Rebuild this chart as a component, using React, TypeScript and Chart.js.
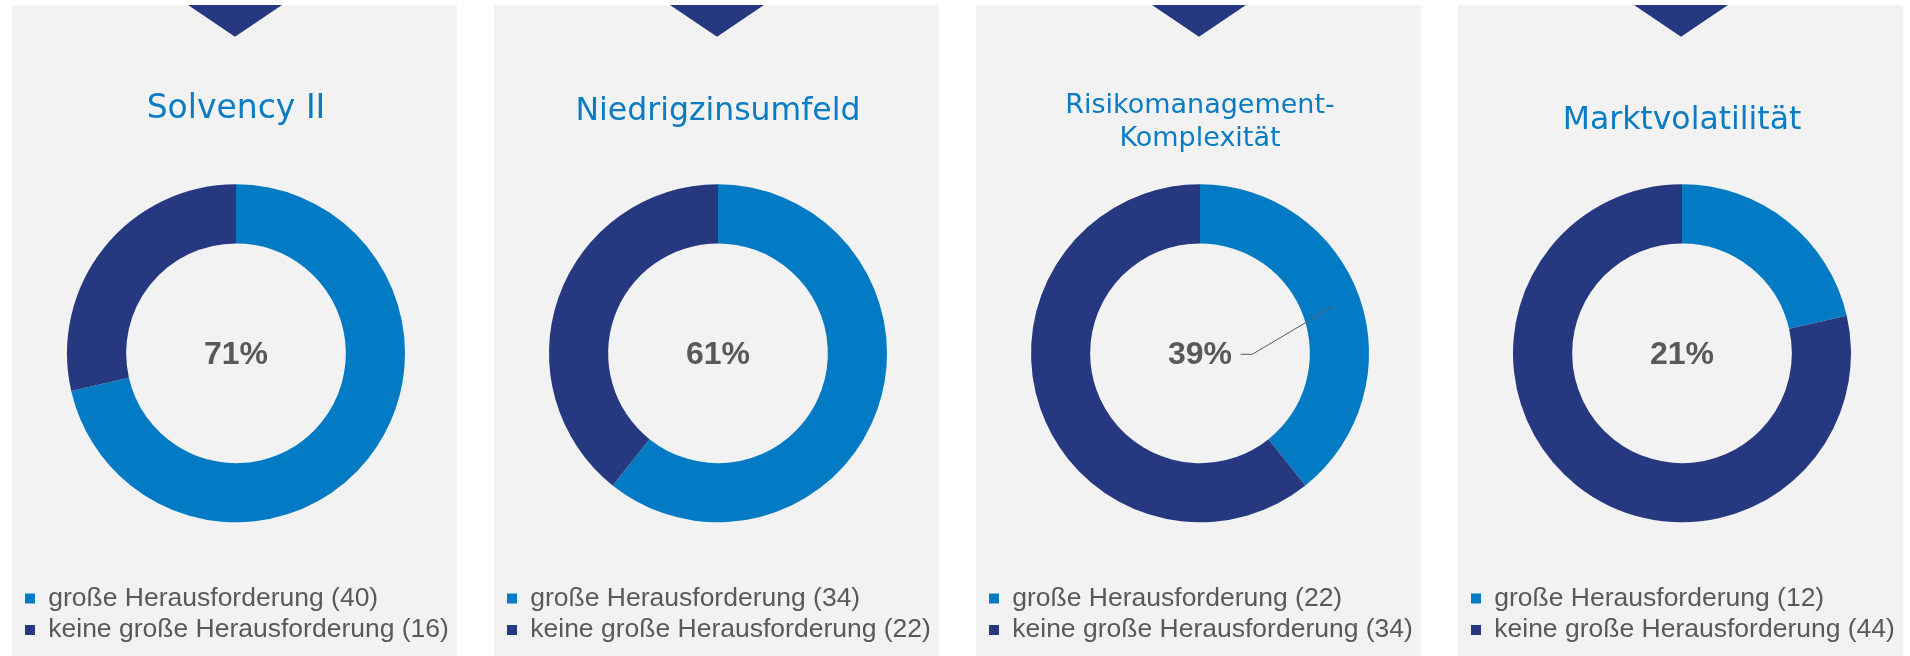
import React, { useEffect, useRef } from "react";
import { Chart, registerables } from "chart.js";

Chart.register(...registerables);

// ---------- data ----------
const panelTitles: string[][] = [
  ["Solvency II"],
  ["Niedrigzinsumfeld"],
  ["Risikomanagement-", "Komplexität"],
  ["Marktvolatilität"],
];
const categories = ["große Herausforderung", "keine große Herausforderung"];
const bigChallenge = [40, 34, 22, 12];
const notBigChallenge = [16, 22, 34, 44];

// ---------- styles ----------
const BLUE = "#027BC4";
const NAVY = "#263880";
const TITLE_BLUE = "#0A7CC3";
const GRAY_TEXT = "#595959";
const PANEL_BG = "#F2F2F2";

const PANEL_W = 445;
const PANEL_H = 651;
const PANEL_TOP = 5;
const panelLefts = [12, 494, 976, 1458];
// title font size, first-line baseline (canvas px), line-height factor
const titleStyles = [
  { size: 33, baseline: 115.8, lh: 1.2 },
  { size: 31.5, baseline: 118, lh: 1.2 },
  { size: 27, baseline: 110.8, lh: 1.2 },
  { size: 31.5, baseline: 126.5, lh: 1.2 },
];
const leaderLine = [false, false, true, false];
const CHART_TOP = 121.35;

function DonutPanel({ index }: { index: number }) {
  const ref = useRef<HTMLCanvasElement>(null);

  useEffect(() => {
    if (!ref.current) return;
    const ts = titleStyles[index];
    const lines = panelTitles[index];
    const lh = ts.size * ts.lh;
    const mid = ts.baseline - 0.346 * ts.size;
    const padTop = mid - lh / 2;
    const padBottom = CHART_TOP - padTop - lines.length * lh;
    const values = [bigChallenge[index], notBigChallenge[index]];
    const showLeader = leaderLine[index];

    const decor = {
      id: "decor",
      beforeDraw(chart: any) {
        const ctx = chart.ctx;
        const cx = chart.width / 2 + 0.5;
        ctx.save();
        ctx.fillStyle = NAVY;
        ctx.beginPath();
        ctx.moveTo(cx - 47, 0);
        ctx.lineTo(cx + 47, 0);
        ctx.lineTo(cx, 31.7);
        ctx.closePath();
        ctx.fill();
        ctx.restore();
      },
      afterDatasetsDraw(chart: any) {
        const ctx = chart.ctx;
        const meta = chart.getDatasetMeta(0);
        const arc = meta.data[0];
        const data = chart.data.datasets[0].data as number[];
        const total = data.reduce((a, b) => a + b, 0);
        const pct = Math.round((data[0] / total) * 100) + "%";
        ctx.save();
        ctx.font = "bold 32px 'Liberation Sans', Arial, sans-serif";
        ctx.fillStyle = GRAY_TEXT;
        ctx.textAlign = "center";
        ctx.textBaseline = "middle";
        ctx.fillText(pct, arc.x, arc.y + 2);
        if (showLeader) {
          const w = ctx.measureText(pct).width;
          const p = arc.getCenterPoint();
          const sx = arc.x + w / 2 + 8.5;
          const ly = arc.y + 1;
          ctx.strokeStyle = GRAY_TEXT;
          ctx.lineWidth = 1;
          ctx.beginPath();
          ctx.moveTo(sx, ly);
          ctx.lineTo(sx + 11.7, ly);
          ctx.lineTo(p.x, p.y);
          ctx.stroke();
        }
        ctx.restore();
      },
    };

    const chart = new Chart(ref.current, {
      type: "doughnut",
      data: {
        labels: categories,
        datasets: [
          {
            data: values,
            backgroundColor: [BLUE, NAVY],
            borderWidth: 0,
            hoverOffset: 0,
            radius: 169,
            cutout: "65%",
          } as any,
        ],
      },
      options: {
        animation: false,
        responsive: false,
        devicePixelRatio: 1,
        events: [],
        layout: { padding: { top: 0, left: 8, right: 5, bottom: 2.75 } },
        plugins: {
          title: {
            display: true,
            text: lines,
            color: TITLE_BLUE,
            font: { family: "'DejaVu Sans', Verdana, sans-serif", size: ts.size, lineHeight: ts.lh, weight: "normal" },
            padding: { top: padTop, bottom: padBottom },
          },
          legend: {
            display: true,
            position: "bottom",
            align: "start",
            labels: {
              boxWidth: 10,
              boxHeight: 10,
              padding: 5,
              color: GRAY_TEXT,
              font: { family: "'Liberation Sans', Arial, sans-serif", size: 26.5 },
              generateLabels: (c: any) => {
                const ds = c.data.datasets[0];
                return (c.data.labels as string[]).map((lab, i) => ({
                  text: `${lab} (${ds.data[i]})`,
                  fillStyle: ds.backgroundColor[i],
                  strokeStyle: ds.backgroundColor[i],
                  lineWidth: 0,
                  fontColor: GRAY_TEXT,
                  hidden: false,
                  index: i,
                })) as any;
              },
            },
          },
          tooltip: { enabled: false },
        },
      } as any,
      plugins: [decor],
    });
    return () => chart.destroy();
  }, [index]);

  return (
    <div
      style={{
        position: "absolute",
        left: panelLefts[index],
        top: PANEL_TOP,
        width: PANEL_W,
        height: PANEL_H,
        background: PANEL_BG,
      }}
    >
      <canvas
        ref={ref}
        width={PANEL_W}
        height={PANEL_H}
        style={{ display: "block", width: PANEL_W, height: PANEL_H }}
      />
    </div>
  );
}

export default function App() {
  return (
    <div
      style={{
        position: "absolute",
        left: 0,
        top: 0,
        width: 1910,
        height: 656,
        background: "#FFFFFF",
        overflow: "hidden",
      }}
    >
      {panelTitles.map((_, i) => (
        <DonutPanel key={i} index={i} />
      ))}
    </div>
  );
}
